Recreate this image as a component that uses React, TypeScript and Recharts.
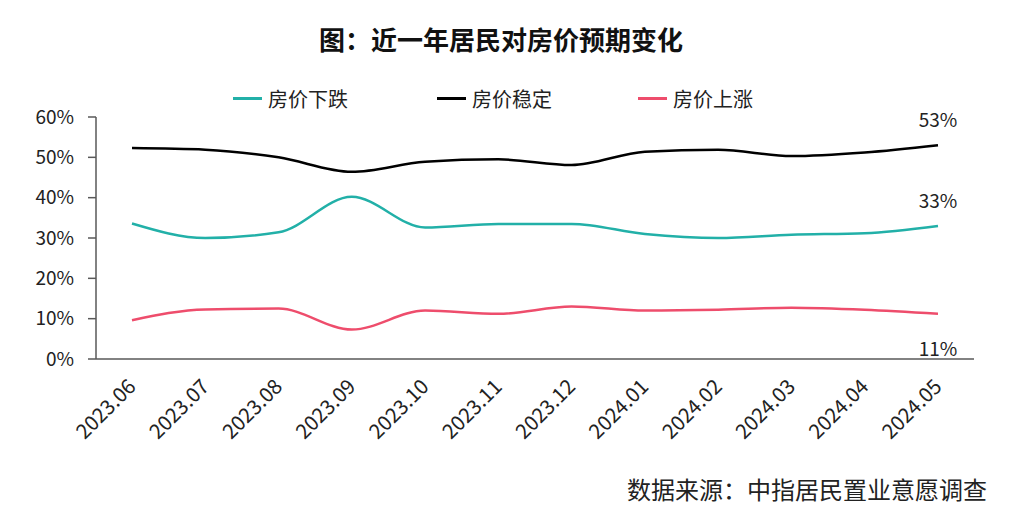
import { LineChart, Line, XAxis, YAxis, Legend, LabelList } from 'recharts';

const months = ['2023.06', '2023.07', '2023.08', '2023.09', '2023.10', '2023.11',
    '2023.12', '2024.01', '2024.02', '2024.03', '2024.04', '2024.05'];
const fall = [33.6, 30.0, 31.4, 40.2, 32.6, 33.5, 33.5, 31.0, 30.0, 30.8, 31.2, 33.0];
const stable = [52.3, 51.9, 50.0, 46.4, 48.9, 49.5, 48.1, 51.4, 51.9, 50.3, 51.2, 53.0];
const rise = [9.6, 12.3, 12.5, 7.3, 12.0, 11.2, 13.0, 12.0, 12.2, 12.7, 12.2, 11.2];
const yTicks = [0, 10, 20, 30, 40, 50, 60];

const series = [
    { key: 'fall', name: '房价下跌', color: '#22b0a8', endDy: -18 },
    { key: 'stable', name: '房价稳定', color: '#000000', endDy: -18 },
    { key: 'rise', name: '房价上涨', color: '#ee4d6c', endDy: 42 },
];

const data = months.map((m, i) => ({ month: m, fall: fall[i], stable: stable[i], rise: rise[i] }));

const FONT = '"Microsoft YaHei", "Noto Sans CJK SC", "Noto Sans", sans-serif';

const MonthTick = (props: any) => {
    const { x, y, payload } = props;
    return (
        <g transform={`translate(${x + 5},${y + 29})`}>
            <text x={0} y={0} textAnchor='end' transform='rotate(-45)'
                fontSize={20.5} fill='#222' fontFamily={FONT}>
                {payload.value}
            </text>
        </g>
    );
};

const endLabel = (dy: number) => (props: any) => {
    const { x, y, index, value } = props;
    if (index !== months.length - 1) return null;
    return (
        <text x={x} y={y + dy} textAnchor='middle' fontSize={19} fill='#222' fontFamily={FONT}>
            {Math.round(value)}%
        </text>
    );
};

const LegendRow = () => (
    <div style={{ position: 'relative', height: 30, fontFamily: FONT, fontSize: 20, color: '#222' }}>
        {series.map((s, i) => (
            <div key={s.key} style={{ position: 'absolute', left: [233, 437, 638][i], top: 0, display: 'flex', alignItems: 'center' }}>
                <span style={{ display: 'inline-block', width: 29, height: 3, background: s.color, marginRight: 6 }} />
                <span>{s.name}</span>
            </div>
        ))}
    </div>
);

const App = () => {
    return (
        <div style={{ position: 'absolute', left: 0, top: 0, width: 1024, height: 507, background: '#fff', fontFamily: FONT, overflow: 'hidden' }}>
            <div style={{ position: 'absolute', top: 20, left: 0, width: 1002, textAlign: 'center', fontSize: 26, fontWeight: 'bold', color: '#111' }}>
                图：近一年居民对房价预期变化
            </div>
            <LineChart width={1024} height={507} data={data}
                margin={{ top: 117, right: 50, bottom: 58, left: 0 }}>
                <Legend verticalAlign='middle' align='center' layout='horizontal'
                    wrapperStyle={{ top: 84, left: 0, width: 1024 }}
                    content={() => <LegendRow />} />
                <XAxis dataKey='month' height={90} interval={0} tickLine={false} tickSize={0} tickMargin={0}
                    padding={{ left: 36, right: 36 }}
                    axisLine={{ stroke: '#595959', strokeWidth: 1.5 }}
                    tick={<MonthTick />} />
                <YAxis width={96} domain={[0, 60]} ticks={yTicks} interval={0}
                    tickFormatter={(v: number) => `${v}%`}
                    tickSize={8} tickMargin={14}
                    axisLine={{ stroke: '#595959', strokeWidth: 1.5 }}
                    tickLine={{ stroke: '#595959', strokeWidth: 1.5 }}
                    tick={{ fontSize: 19, fill: '#222', fontFamily: FONT }} />
                {series.map((s) => (
                    <Line key={s.key} type='monotone' dataKey={s.key} name={s.name}
                        stroke={s.color} strokeWidth={2.5} dot={false} activeDot={false}
                        isAnimationActive={false}>
                        <LabelList dataKey={s.key} content={endLabel(s.endDy)} />
                    </Line>
                ))}
            </LineChart>
            <div style={{ position: 'absolute', top: 477, left: 627, fontSize: 24, lineHeight: '24px', color: '#222', whiteSpace: 'nowrap' }}>
                数据来源：中指居民置业意愿调查
            </div>
        </div>
    );
};

export default App;
